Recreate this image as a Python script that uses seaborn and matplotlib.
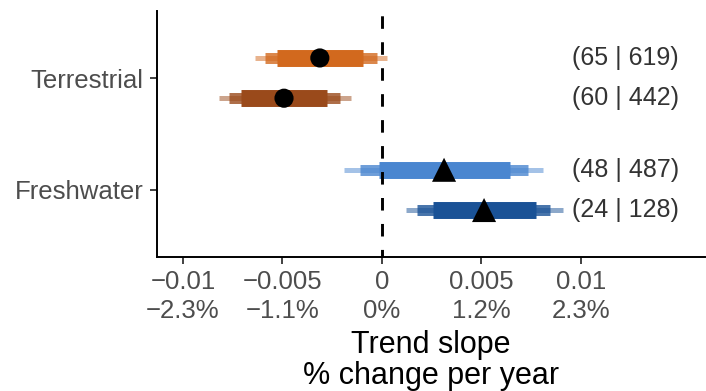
import pandas as pd
import matplotlib
matplotlib.use("Agg")
import matplotlib.pyplot as plt
import seaborn as sns

# Trend slope estimates with nested credible intervals (50%, 80%, 95%)
realm = ["Terrestrial", "Terrestrial", "Freshwater", "Freshwater"]
group = ["T-a", "T-b", "F-a", "F-b"]
estimate = [-0.00312, -0.00492, 0.00312, 0.00513]
lo50 = [-0.00528, -0.00709, -0.00015, 0.00256]
hi50 = [-0.00095, -0.00276, 0.00643, 0.00774]
lo80 = [-0.00588, -0.00769, -0.00111, 0.00176]
hi80 = [-0.00025, -0.00211, 0.00734, 0.00844]
lo95 = [-0.00638, -0.00819, -0.00191, 0.00121]
hi95 = [0.00025, -0.00156, 0.00809, 0.00910]
n_sites = [65, 60, 48, 24]
n_series = [619, 442, 487, 128]

realm_order = ["Freshwater", "Terrestrial"]
x_ticks = [-0.01, -0.005, 0, 0.005, 0.01]
pct_labels = ["−2.3%", "−1.1%", "0%", "1.2%", "2.3%"]

group_colors = {"T-a": "#D2691E", "T-b": "#9A4A1B", "F-a": "#4A86D0", "F-b": "#1A5296"}
row_offset = {"T-a": 0.18, "T-b": -0.18, "F-a": 0.18, "F-b": -0.18}

df = pd.DataFrame({
    "realm": realm, "group": group, "estimate": estimate,
    "lo50": lo50, "hi50": hi50, "lo80": lo80, "hi80": hi80,
    "lo95": lo95, "hi95": hi95, "n_sites": n_sites, "n_series": n_series,
})
df["ypos"] = [realm_order.index(r) + row_offset[g] for r, g in zip(df.realm, df.group)]

sns.set_theme(style="ticks")
plt.rcParams["font.family"] = ["Liberation Sans", "DejaVu Sans"]

fig = plt.figure(figsize=(7.06, 3.91), dpi=100)
ax = fig.add_axes([0.2224, 0.3427, 0.7762, 0.6292])

# interval bands, widest/thinnest first
bands = [("lo95", "hi95", 3.6, 0.5), ("lo80", "hi80", 7.9, 0.8), ("lo50", "hi50", 12.2, 1.0)]
for lo, hi, lw, alpha in bands:
    for _, r in df.iterrows():
        lc = ax.hlines(r["ypos"], r[lo], r[hi], color=group_colors[r["group"]],
                       lw=lw, alpha=alpha, zorder=2)
        lc.set_capstyle("butt")

ax.axvline(0, color="black", lw=2.1, linestyle=(1.7, (4.3, 4.6)), zorder=3)

sns.scatterplot(data=df[df.realm == "Terrestrial"], x="estimate", y="ypos",
                marker="o", s=190, color="black", edgecolor="none",
                legend=False, ax=ax, zorder=4)
sns.scatterplot(data=df[df.realm == "Freshwater"], x="estimate", y="ypos",
                marker="^", s=300, color="black", edgecolor="none",
                legend=False, ax=ax, zorder=4)

for _, r in df.iterrows():
    ax.text(0.00955, r["ypos"], f"({r['n_sites']} | {r['n_series']})",
            ha="left", va="center", fontsize=18, color="#333333")

ax.set_xlim(-0.0113, 0.01623)
ax.set_ylim(-0.6, 1.6)
ax.set_yticks(range(len(realm_order)))
ax.set_yticklabels(realm_order)
ax.set_xticks(x_ticks)
ax.set_xticklabels([f"{v:g}".replace("-", "−") + "\n" + p for v, p in zip(x_ticks, pct_labels)],
                   linespacing=1.3)
ax.tick_params(axis="x", labelsize=18.5, labelcolor="#4D4D4D", length=5, width=1.3,
               color="#333333", pad=4)
ax.tick_params(axis="y", labelsize=18.5, labelcolor="#4D4D4D", length=5, width=1.3,
               color="#333333", pad=5)
ax.set_xlabel("Trend slope\n% change per year", fontsize=22, color="black",
              linespacing=1.05, labelpad=5)
ax.set_ylabel("")

sns.despine(ax=ax)
for side in ("left", "bottom"):
    ax.spines[side].set_linewidth(1.4)
    ax.spines[side].set_color("black")

fig.savefig("out.png", dpi=100, facecolor="white")
